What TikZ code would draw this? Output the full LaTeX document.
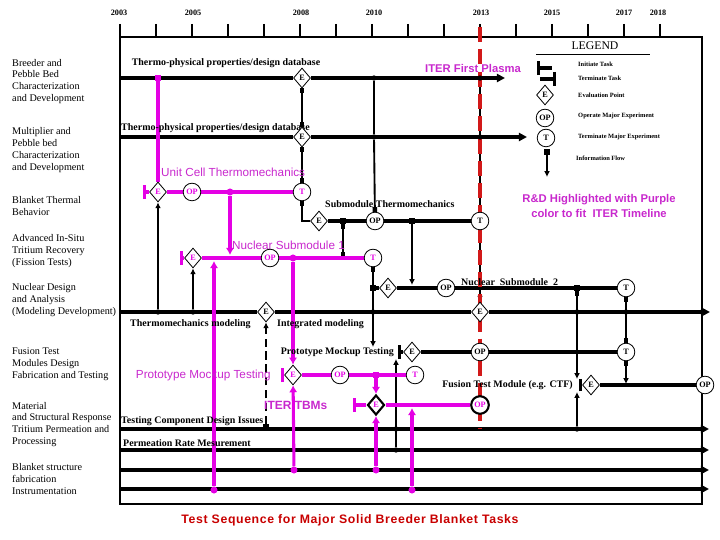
\documentclass[tikz,border=0pt]{standalone}
\usepackage{fontspec}
\setmainfont{Liberation Serif}
\newfontfamily\arialfont{Liberation Sans}
\newfontfamily\arialwide[LetterSpace=5]{Liberation Sans}
\usetikzlibrary{shapes.geometric,arrows.meta,positioning,backgrounds}

\definecolor{purp}{RGB}{228,0,228}
\definecolor{purptext}{RGB}{200,40,205}
\definecolor{iterred}{RGB}{210,25,25}
\definecolor{titlered}{RGB}{200,0,0}

\tikzset{
  task/.style={line width=3pt},
  ptask/.style={line width=3pt, purp},
  flow/.style={line width=1.6pt},
  pflow/.style={line width=2.6pt, purp},
  startbar/.style={arrows={Bar[width=12pt,line width=2.5pt]-}},
  endbar/.style={arrows={-Bar[width=12pt,line width=2.5pt]}},
  endarr/.style={arrows={-Triangle[length=7pt,width=7pt]}},
  flowarr/.style={arrows={-Latex[length=5pt,width=5pt]}},
  sqarr/.style={arrows={Square[length=4pt,width=4pt]-Latex[length=5pt,width=5pt]}},
  sqsq/.style={arrows={Square[length=4pt,width=4pt]-Square[length=4pt,width=4pt]}},
  endsq/.style={arrows={-Square[length=4pt,width=4pt]}},
  pflowarr/.style={arrows={-Latex[length=6pt,width=7pt]}},
  evalpt/.style={diamond, draw, fill=white, line width=0.7pt, inner sep=0pt,
    minimum width=14.5pt, minimum height=17pt, font=\bfseries\fontsize{7}{7}\selectfont},
  majexp/.style={circle, draw, fill=white, line width=0.7pt, inner sep=0pt,
    minimum size=15pt, font=\bfseries\fontsize{7}{7}\selectfont},
  pnode/.style={text=purp},
  jdot/.style={circle, fill, inner sep=0pt, minimum size=4.5pt},
  pdot/.style={circle, fill=purp, inner sep=0pt, minimum size=6pt},
  jsq/.style={rectangle, fill, inner sep=0pt, minimum size=4.5pt},
  catlabel/.style={anchor=west, align=left, inner sep=0pt, font=\fontsize{8.7}{10.2}\selectfont},
  tasklabel/.style={inner sep=0pt, font=\bfseries\fontsize{8.5}{9}\selectfont},
  rdlabel/.style={inner sep=0pt, text=purptext, font=\arialfont\fontsize{10}{12}\selectfont},
  rdbold/.style={inner sep=0pt, text=purptext, font=\arialfont\bfseries\fontsize{9.6}{13}\selectfont},
  legtext/.style={anchor=west, inner sep=0pt, font=\bfseries\fontsize{5.5}{6}\selectfont},
  yearlabel/.style={inner sep=0pt, font=\bfseries\fontsize{7}{7}\selectfont},
}

\begin{document}
\begin{tikzpicture}[x=0.03cm, y=-0.03cm]
\useasboundingbox (0,0) rectangle (720,540);

% Years along the top
\foreach \yr/\xx in {2003/119,2005/193,2008/301,2010/374,2013/481,2015/552,2017/624,2018/658}
  \node[yearlabel] (yr\yr) at (\xx,13) {\yr};

% Task areas down the left side
\node[catlabel] (cat1) at (12,81.5) {Breeder and\\Pebble Bed\\Characterization\\and Development};
\node[catlabel] (cat2) at (12,150) {Multiplier and\\Pebble bed\\Characterization\\and Development};
\node[catlabel] (cat3) at (12,206) {Blanket Thermal\\Behavior};
\node[catlabel] (cat4) at (12,251) {Advanced In-Situ\\Tritium Recovery\\(Fission Tests)};
\node[catlabel] (cat5) at (12,300.5) {Nuclear Design\\and Analysis\\(Modeling Development)};
\node[catlabel] (cat6) at (12,364) {Fusion Test\\Modules Design\\Fabrication and Testing};
\node[catlabel] (cat7) at (12,424.5) {Material\\and Structural Response\\Tritium Permeation and\\Processing};
\node[catlabel] (cat8) at (12,479) {Blanket structure\\fabrication\\Instrumentation};

% Legend
\node[font=\fontsize{10}{10}\selectfont] (legend) at (595,46) {LEGEND};
\coordinate (lgU1) at (536,54); \coordinate (lgU2) at (650,54);
\coordinate (lgI1) at (537,68); \coordinate (lgI2) at (552,68);
\coordinate (lgK1) at (540,79); \coordinate (lgK2) at (556,79);
\node[evalpt] (lgE) at (545,95) {E};
\node[majexp] (lgOP) at (545,118) {OP};
\node[majexp] (lgT) at (546,138) {T};
\node[jsq] (lgF1) at (547,152) {};
\coordinate (lgF2) at (547,177);
\node[legtext] (lgtI) at (578,64) {Initiate Task};
\node[legtext] (lgtK) at (578,78) {Terminate Task};
\node[legtext] (lgtE) at (578,95) {Evaluation Point};
\node[legtext] (lgtOP) at (578,116) {Operate Major Experiment};
\node[legtext] (lgtT) at (578,137) {Terminate Major Experiment};
\node[legtext] (lgtF) at (576,158) {Information Flow};

\node[rdbold] (iterfp) at (473,68) {ITER First Plasma};
\node[rdbold, align=center] (rdnote) at (599,206) {R\&D Highlighted with Purple\\color to fit\ \ ITER Timeline};

% Breeder / pebble bed database
\coordinate (a0) at (120,78);
\coordinate (aend) at (505,78);
\node[tasklabel] (aL) at (226,63) {Thermo-physical properties/design database};
\node[evalpt] (aE) at (302,78) {E};
\node[jdot] (aj1) at (374,78) {};
\node[jdot] (aj2) at (480,78) {};
\node[jsq, purp] (aP) at (158,78) {};

% Multiplier database
\coordinate (b0) at (120,137);
\coordinate (bend) at (527,137);
\node[tasklabel, anchor=west] (bL) at (121,128) {Thermo-physical properties/design database};
\node[evalpt] (bE) at (302,137) {E};
\node[jdot] (bj1) at (374,137) {};
\node[jdot] (bj2) at (480,137) {};

% Unit cell (purple)
\coordinate (u0) at (143,192);
\node[rdlabel, anchor=west] (uL) at (161,172) {Unit Cell Thermomechanics};
\node[evalpt, pnode] (uE) at (158,192) {E};
\node[majexp, pnode] (uOP) at (192,192) {OP};
\node[pdot] (uJ) at (230,192) {};
\node[majexp, pnode] (uT) at (302,192) {T};

% Submodule thermomechanics
\coordinate (sC) at (302,221);
\node[tasklabel, anchor=west] (sL) at (325,204) {Submodule Thermomechanics};
\node[evalpt] (sE) at (319,221) {E};
\node[majexp] (sOP) at (375,221) {OP};
\node[majexp] (sT) at (480,221) {T};
\node[jsq] (sJ1) at (343,221) {};
\node[jsq] (sJ2) at (412,221) {};

% Nuclear submodule 1 (purple)
\coordinate (n10) at (180,258);
\coordinate (n1A) at (230,255);
\coordinate (n1B) at (214,261);
\coordinate (n1C) at (343,257);
\node[rdlabel, anchor=west] (n1L) at (232,245) {Nuclear Submodule 1};
\node[evalpt, pnode] (n1E) at (193,258) {E};
\node[majexp, pnode] (n1OP) at (270,258) {OP};
\node[pdot] (n1J) at (293,258) {};
\node[majexp, pnode] (n1T) at (373,258) {T};

% Nuclear submodule 2
\coordinate (n2A) at (412,285);
\node[tasklabel, anchor=base west] (n2L) at (461,286) {Nuclear\ \ Submodule\ \ 2};
\node[jsq] (n2S) at (373,288) {};
\node[evalpt] (n2E) at (388,288) {E};
\node[majexp] (n2OP) at (446,288) {OP};
\node[jsq] (n2J) at (577,288) {};
\node[majexp] (n2T) at (626,288) {T};

% Nuclear design line
\coordinate (d0) at (120,312);
\coordinate (dend) at (710,312);
\node[tasklabel, anchor=west] (dL1) at (130,324) {Thermomechanics modeling};
\node[tasklabel, anchor=west] (dL2) at (277,324) {Integrated modeling};
\node[evalpt] (dE1) at (266,312) {E};
\node[evalpt] (dE2) at (480,312) {E};
\node[jdot] (dJ1) at (158,312) {};
\node[jdot] (dJ2) at (193,312) {};
\node[jdot] (dJ3) at (373,312) {};
\node[jdot] (dJ4) at (577,312) {};
\node[jdot] (dJ5) at (626,312) {};
\node[jdot] (dJ6) at (702,312) {};

% Prototype mockup testing (black)
\coordinate (p0) at (398,352);
\coordinate (pArr) at (373,347);
\coordinate (pUp) at (396,359);
\node[tasklabel, anchor=east] (pL) at (394,352) {Prototype Mockup Testing};
\node[evalpt] (pE) at (412,352) {E};
\node[majexp] (pOP) at (480,352) {OP};
\node[majexp] (pT) at (626,352) {T};

% Prototype mockup testing (purple)
\coordinate (pp0) at (281,375);
\node[rdlabel, anchor=east] (ppL) at (271,375) {Prototype Mockup Testing};
\node[evalpt, pnode] (ppE) at (293,375) {E};
\node[majexp, pnode] (ppOP) at (340,375) {OP};
\node[jsq, purp] (ppJ) at (376,375) {};
\node[majexp, pnode] (ppT) at (415,375) {T};

% Fusion test module
\coordinate (f0) at (579,385);
\coordinate (fA) at (577,379);
\coordinate (fB) at (577,392);
\coordinate (fC) at (626,384);
\node[tasklabel, anchor=east] (fL) at (573,385) {Fusion Test Module (e.g. CTF)};
\node[evalpt] (fE) at (591,385) {E};
\node[majexp] (fOP) at (705,385) {OP};

% ITER TBMs (purple)
\coordinate (t0) at (353,405);
\coordinate (tA) at (412,408);
\node[rdbold, font=\arialfont\bfseries\fontsize{10.2}{11}\selectfont, anchor=west] (tL) at (264,405) {ITER TBMs};
\node[evalpt, pnode, line width=1.8pt] (tE) at (376,405) {E};
\node[majexp, pnode, line width=1.8pt] (tOP) at (480,405) {OP};

% Materials, fabrication rows
\node[tasklabel, anchor=west] (mL1) at (121,421) {Testing Component Design Issues};
\node[tasklabel, anchor=west] (mL2) at (123,443) {Permeation Rate Mesurement};
\node[jsq] (mS) at (266,427) {};
\node[jdot] (mJ1) at (396,429) {};
\node[jdot] (mJ2) at (396,450) {};
\node[jdot] (mJ3) at (577,429) {};
\node[jdot] (mJ4) at (702,429) {};
\node[pdot] (mP0) at (214,490) {};
\node[pdot] (mP1) at (294,470) {};
\node[pdot] (mP2) at (376,470) {};
\node[pdot] (mP3) at (412,490) {};
\coordinate (redTop) at (480,27);
\coordinate (redBot) at (480,428);

\node[font=\arialwide\bfseries\fontsize{10.5}{12}\selectfont, text=titlered] (title) at (350,520) {Test Sequence for Major Solid Breeder Blanket Tasks};

\begin{pgfonlayer}{background}
% frame and year ticks
\draw[line width=2.4pt] (120,37) rectangle (702,504);
\foreach \i in {0,...,15}
  \draw[line width=2.4pt] (120+36*\i,24) -- (120+36*\i,37);
\foreach \yy/\nm in {429/ma,450/mb,470/mc,489/md} {
  \coordinate (\nm0) at (120,\yy);
  \coordinate (\nm1) at (709,\yy);
  \draw[task, endarr] (\nm0) -- (\nm1);
}

% legend symbols
\draw[line width=0.6pt] (lgU1) -- (lgU2);
\draw[task, startbar] (lgI1) -- (lgI2);
\draw[task, endbar] (lgK1) -- (lgK2);
\draw[flow, flowarr] (lgF1) -- (lgF2);

% black task lines
\draw[task] (a0) -- (aE);
\draw[task, endarr] (aE) -- (aend);
\draw[task] (b0) -- (bE);
\draw[task, endarr] (bE) -- (bend);
\draw[task] (sE) -- (sOP) -- (sT);
\draw[task] (n2S) -- (n2E) -- (n2OP) -- (n2T);
\draw[task] (d0) -- (dE1) -- (dE2);
\draw[task, endarr] (dE2) -- (dend);
\draw[task, startbar] (p0) -- (pE);
\draw[task] (pE) -- (pOP) -- (pT);
\draw[task, arrows={Bar[width=11pt,line width=2.5pt]-}] (f0) -- (fE);
\draw[task] (fE) -- (fOP);

% black information flow
\draw[flow, sqsq] (aE) -- (bE);
\draw[flow, sqsq] (bE) -- (uT);
\draw[flow, arrows={Square[length=4pt,width=4pt]-}] (uT) -- (sC) -- (sE);
\draw[flow, endsq] (aj1) -- (bj1) -- (sOP);
\draw[flow, endsq] (aj2) -- (sT);
\draw[flow, sqsq] (sJ1) -- (n1C);
\draw[flow, flowarr] (sJ2) -- (n2A);
\draw[flow, sqarr] (sT) -- (dE2);
\draw[flow, arrows={Square[length=4pt,width=4pt]-}] (n1T) -- (n2S);
\draw[flow, flowarr] (n2S) -- (pArr);
\draw[flow, flowarr] (dJ1) -- (uE);
\draw[flow, flowarr] (dJ2) -- (n1E);
\draw[flow, flowarr, dash pattern=on 7pt off 4pt] (mS) -- (dE1);
\draw[flow, sqsq] (n2T) -- (pT);
\draw[flow, sqarr] (pT) -- (fC);
\draw[flow, sqarr] (n2J) -- (fA);
\draw[flow, flowarr] (mJ3) -- (fB);
\draw[flow, flowarr] (mJ2) -- (pUp);

% purple tasks and flow
\draw[pflow, endsq] (aP) -- (uE);
\draw[ptask, startbar] (u0) -- (uE);
\draw[ptask] (uE) -- (uOP) -- (uT);
\draw[ptask, startbar] (n10) -- (n1E);
\draw[ptask] (n1E) -- (n1OP) -- (n1T);
\draw[ptask, startbar] (pp0) -- (ppE);
\draw[ptask] (ppE) -- (ppOP) -- (ppT);
\draw[ptask, startbar] (t0) -- (tE);
\draw[ptask] (tE) -- (tOP);
\draw[pflow, pflowarr] (uJ) -- (n1A);
\draw[pflow, pflowarr] (mP0) -- (n1B);
\draw[pflow, pflowarr] (n1J) -- (ppE);
\draw[pflow, pflowarr] (mP1) -- (ppE);
\draw[pflow, pflowarr] (ppJ) -- (tE);
\draw[pflow, pflowarr] (mP2) -- (tE);
\draw[pflow, pflowarr] (mP3) -- (tA);

% ITER first plasma
\draw[iterred, line width=4pt, dash pattern=on 13pt off 6pt] (redTop) -- (redBot);
\end{pgfonlayer}

\end{tikzpicture}
\end{document}
